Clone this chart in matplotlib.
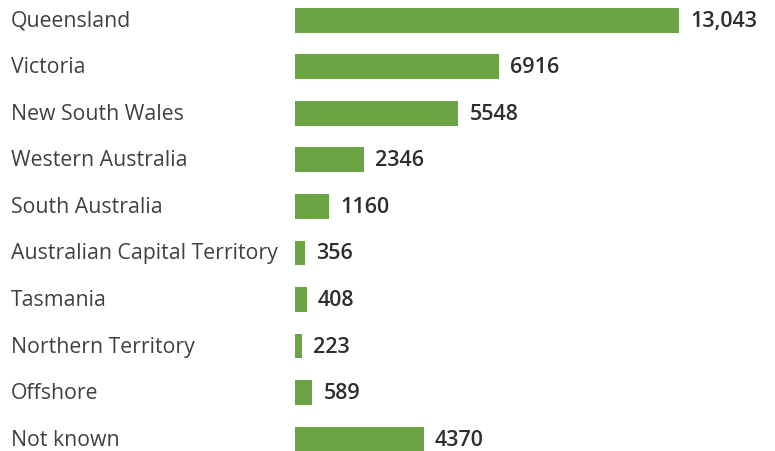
import matplotlib.pyplot as plt
from matplotlib.transforms import blended_transform_factory, offset_copy

# Data
states = ["Queensland", "Victoria", "New South Wales", "Western Australia",
          "South Australia", "Australian Capital Territory", "Tasmania",
          "Northern Territory", "Offshore", "Not known"]
counts = [13043, 6916, 5548, 2346, 1160, 356, 408, 223, 589, 4370]
count_labels = ["13,043", "6916", "5548", "2346", "1160", "356", "408", "223", "589", "4370"]

plt.rcParams['font.family'] = ['Open Sans', 'DejaVu Sans']

fig = plt.figure(figsize=(7.75, 4.52), dpi=100)
ax = fig.add_axes([295/775, 0, 480/775, 1])

y = list(range(len(states)))
ax.barh(y, counts, height=0.536, color="#6aa443")
ax.set_xlim(0, 16304)
ax.set_ylim(9.257, -0.46)
ax.axis("off")

# category labels on the left
trans = blended_transform_factory(fig.transFigure, ax.transData)
for yi, name in zip(y, states):
    fig.text(11/775, yi, name, transform=trans, ha="left", va="center",
             fontsize=15.3, color="#404040")

# value labels after bar ends
off = offset_copy(ax.transData, fig=fig, x=8, y=0, units="points")
for yi, v, lab in zip(y, counts, count_labels):
    ax.text(v, yi, lab, transform=off, ha="left", va="center",
            fontsize=15.5, fontweight="semibold", color="#2e2e2e")

fig.savefig("out.png", dpi=100)
